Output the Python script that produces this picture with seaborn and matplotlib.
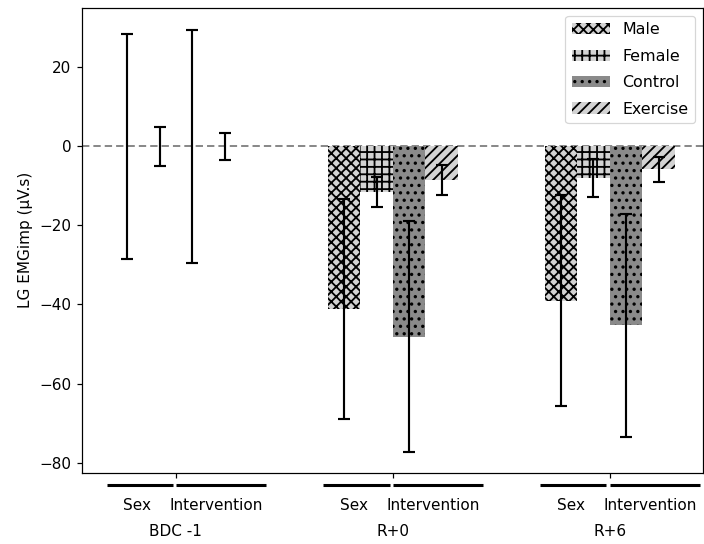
import matplotlib
matplotlib.use("Agg")
import matplotlib.pyplot as plt
import matplotlib.transforms as mtransforms
import seaborn as sns
import pandas as pd

# ---- data ----
timepoints = ["BDC -1", "R+0", "R+6"]
groups = ["Male", "Female", "Control", "Exercise"]
male_mean = [0.0, -41.1, -39.0]
female_mean = [0.0, -11.6, -8.0]
control_mean = [0.0, -48.2, -45.3]
exercise_mean = [0.0, -8.6, -5.8]
male_err = [28.5, 27.8, 26.8]
female_err = [4.9, 3.8, 4.8]
control_err = [29.5, 29.2, 28.1]
exercise_err = [3.5, 3.8, 3.2]
sub_labels = ["Sex", "Intervention"]

means = {"Male": male_mean, "Female": female_mean,
         "Control": control_mean, "Exercise": exercise_mean}
errs = {"Male": male_err, "Female": female_err,
        "Control": control_err, "Exercise": exercise_err}

rows = []
for g in groups:
    for t, m, e in zip(timepoints, means[g], errs[g]):
        rows.append({"time": t, "group": g, "mean": m, "err": e})
df = pd.DataFrame(rows)

colors = {"Male": "lightgray", "Female": "lightgray",
          "Control": "#8a8a8a", "Exercise": "lightgray"}
hatches = {"Male": "xxx", "Female": "++", "Control": "..", "Exercise": "///"}

DPI = 89
S = 110 / DPI  # scale so that sizes look like 110 dpi
plt.rcParams.update({
    "font.size": 10 * S,
    "axes.linewidth": 0.8 * S,
    "xtick.major.size": 3.5 * S, "ytick.major.size": 3.5 * S,
    "xtick.major.width": 0.8 * S, "ytick.major.width": 0.8 * S,
    "xtick.major.pad": 3.5 * S, "ytick.major.pad": 3.5 * S,
    "axes.labelpad": 4.0 * S,
    "hatch.linewidth": 1.2 * S,
    "legend.edgecolor": "0.8",
})

fig = plt.figure(figsize=(704 / DPI, 544 / DPI), dpi=DPI)
ax = fig.add_axes([82 / 704, 1 - 472.5 / 544, (703 - 82) / 704, (472.5 - 8) / 544])

sns.barplot(data=df, x="time", y="mean", hue="group", hue_order=groups,
            order=timepoints, palette=colors, width=0.6, saturation=1,
            errorbar=None, edgecolor="black", linewidth=0, ax=ax)

# hatches + error bars
for g, cont in zip(groups, ax.containers):
    xs = []
    for p in cont.patches:
        p.set_hatch(hatches[g])
        xs.append(p.get_x() + p.get_width() / 2)
    ax.errorbar(xs, means[g], yerr=errs[g], fmt="none", ecolor="black",
                elinewidth=1.4 * S, capsize=4 * S, capthick=1.4 * S, zorder=5)

ax.axhline(0, color="gray", ls=(0, (4, 2.2)), lw=1.2 * S, zorder=0.5)

if ax.get_legend() is not None:
    ax.get_legend().remove()
ax.legend(ax.containers, groups, loc="upper right", fontsize=10.4 * S,
          labelspacing=0.72, handlelength=2.4)

ax.set_xlim(-0.433, 2.43)
ax.set_ylim(-82.5, 35)
ax.set_yticks([-80, -60, -40, -20, 0, 20])
ax.set_xticks([0, 1, 2])
ax.set_xticklabels(["", "", ""])
ax.set_xlabel("")
ax.set_ylabel("LG EMGimp (\u03bcV.s)")

# group annotations below the axis
trans = mtransforms.blended_transform_factory(ax.transData, ax.transAxes)
ah = 472.5 - 8
y_line = -12 / ah
y_sub = -32.5 / ah
y_main = -59 / ah
for i, t in enumerate(timepoints):
    ax.plot([i - 0.32, i - 0.015], [y_line, y_line], color="black", lw=2.0 * S,
            transform=trans, clip_on=False, solid_capstyle="butt")
    ax.plot([i + 0.0, i + 0.415], [y_line, y_line], color="black", lw=2.0 * S,
            transform=trans, clip_on=False, solid_capstyle="butt")
    ax.text(i - 0.18, y_sub, sub_labels[0], transform=trans, ha="center", va="center")
    ax.text(i + 0.185, y_sub, sub_labels[1], transform=trans, ha="center", va="center")
    ax.text(i, y_main, t, transform=trans, ha="center", va="center")

fig.savefig("out.png", dpi=DPI)
